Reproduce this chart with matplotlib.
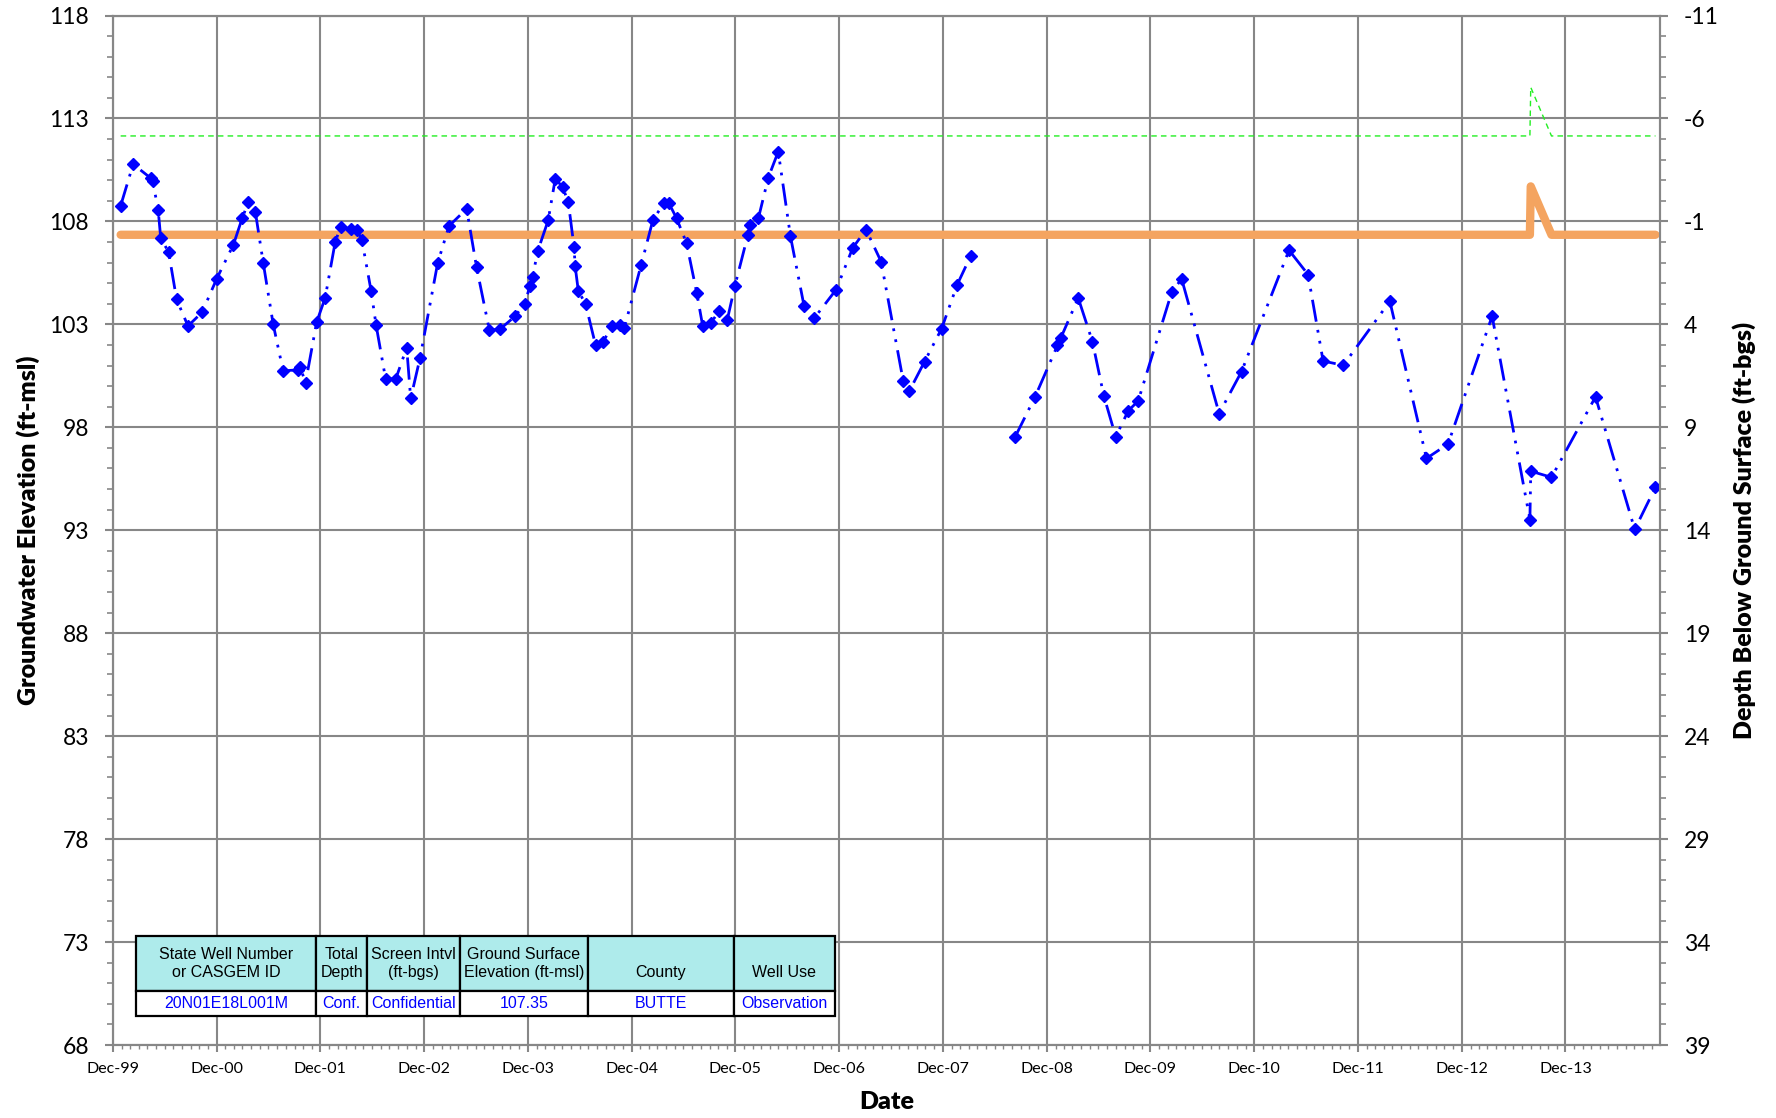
import numpy as np
import pandas as pd
import matplotlib
matplotlib.use("Agg")
import matplotlib.pyplot as plt
import matplotlib.dates as mdates
from matplotlib.ticker import FixedLocator, MultipleLocator

plt.rcParams['font.family'] = ['Lato', 'DejaVu Sans']
plt.rcParams['axes.unicode_minus'] = False

# groundwater elevation measurements (ft-msl), None breaks the line
gw_dates = [
    '1999-12-29', '2000-02-11', '2000-04-13', '2000-04-20', '2000-05-09', '2000-05-18',
    '2000-06-15', '2000-07-13', '2000-08-22', '2000-10-11', '2000-12-01', '2001-01-29',
    '2001-03-01', '2001-03-22', '2001-04-16', '2001-05-14', '2001-06-18', '2001-07-23',
    '2001-09-12', '2001-09-20', '2001-10-10', '2001-11-18', '2001-12-18', '2002-01-22',
    '2002-02-10', '2002-03-18', '2002-04-08', '2002-04-26', '2002-05-29', '2002-06-15',
    '2002-07-19', '2002-08-24', '2002-10-01', '2002-10-15', '2002-11-17', '2003-01-18',
    '2003-02-27', '2003-04-30', '2003-06-04', '2003-07-19', '2003-08-25', '2003-10-18',
    '2003-11-20', '2003-12-09', '2003-12-18', '2004-01-05', '2004-02-11', '2004-03-07',
    '2004-04-02', '2004-04-22', '2004-05-12', '2004-05-16', '2004-05-27', '2004-06-22',
    '2004-07-27', '2004-08-23', '2004-09-22', '2004-10-22', '2004-11-05', '2005-01-03',
    '2005-02-14', '2005-03-25', '2005-04-11', '2005-05-08', '2005-06-12', '2005-07-18',
    '2005-08-08', '2005-09-06', '2005-10-05', '2005-11-02', '2005-11-29', '2006-01-14',
    '2006-01-20', '2006-02-20', '2006-03-27', '2006-05-01', '2006-06-13', '2006-07-31',
    '2006-09-04', '2006-11-21', '2007-01-18', '2007-03-06', '2007-04-28', '2007-07-15',
    '2007-08-05', '2007-09-28', '2007-11-27', '2008-01-21', '2008-03-08', '2008-05-20',
    '2008-08-11', '2008-10-20', '2009-01-08', '2009-01-20', '2009-03-22', '2009-05-11',
    '2009-06-20', '2009-08-01', '2009-09-14', '2009-10-19', '2010-02-14', '2010-03-21',
    '2010-07-31', '2010-10-18', '2011-04-03', '2011-06-09', '2011-08-01', '2011-10-11',
    '2012-03-23', '2012-07-30', '2012-10-14', '2013-03-18', '2013-07-29', '2013-08-01',
    '2013-10-13', '2014-03-17', '2014-08-02', '2014-10-14',
]
gw_elev = [
    108.76, 110.78, 110.10, 109.94, 108.57, 107.20,
    106.50, 104.21, 102.92, 103.59, 105.21, 106.87,
    108.16, 108.92, 108.48, 105.98, 103.00, 100.74,
    100.79, 100.95, 100.17, 103.11, 104.29, 106.98,
    107.73, 107.65, 107.60, 107.11, 104.60, 102.98,
    100.33, 100.37, 101.87, 99.40, 101.37, 105.98,
    107.78, 108.61, 105.77, 102.72, 102.76, 103.40,
    104.01, 104.85, 105.29, 106.55, 108.05, 110.07,
    109.67, 108.92, 106.76, 105.82, 104.64, 103.97,
    101.98, 102.16, 102.92, 102.95, 102.82, 105.87,
    108.08, 108.89, 108.89, 108.15, 106.95, 104.53,
    102.92, 103.08, 103.64, 103.19, 104.85, 107.34,
    107.84, 108.15, 110.13, 111.39, 107.27, 103.88,
    103.29, 104.69, 106.71, 107.60, 106.05, 100.24,
    99.75, 101.19, 102.79, 104.93, 106.31, None,
    97.51, 99.45, 101.98, 102.35, 104.28, 102.16,
    99.53, 97.54, 98.80, 99.28, 104.56, 105.21,
    98.67, 100.71, 106.60, 105.42, 101.22, 101.01,
    104.12, 96.49, 97.19, 103.40, 93.52, 95.87,
    95.57, 99.48, 93.04, 95.09,
]

# ground surface and reference point elevations (ft-msl)
ref_dates = ['1999-12-29', '2013-07-29', '2013-08-01', '2013-10-13', '2014-10-14']
gse_elev = [107.35, 107.35, 109.70, 107.35, 107.35]
rp_elev = [112.15, 112.15, 114.51, 112.15, 112.15]

# well info table
col_labels = ['State Well Number\nor CASGEM ID', 'Total\nDepth', 'Screen Intvl\n(ft-bgs)',
              'Ground Surface\nElevation (ft-msl)', '\nCounty', '\nWell Use']
well_info = ['20N01E18L001M', 'Conf.', 'Confidential', '107.35', 'BUTTE', 'Observation']
col_widths = [181, 51, 93, 128, 147, 101]

elev_ticks = np.arange(68, 119, 5)
depth_ticks = np.arange(-11, 40, 5)

gw = pd.DataFrame({'date': pd.to_datetime(gw_dates),
                   'elev': pd.to_numeric(pd.Series(gw_elev, dtype='float'))})
ref = pd.DataFrame({'date': pd.to_datetime(ref_dates), 'gse': gse_elev, 'rp': rp_elev})

grid_gray = '#878787'

fig = plt.figure(figsize=(17.76, 11.18), dpi=100)
ax = fig.add_axes([112.7 / 1776, 1 - 1045 / 1118, (1660 - 112.7) / 1776, (1045 - 15.5) / 1118])

ax.plot(ref['date'], ref['rp'], color='#22EE22', lw=1, linestyle=(0, (4, 3)), zorder=3)
ax.plot(ref['date'], ref['gse'], color='#F4A460', lw=6, solid_capstyle='round',
        solid_joinstyle='round', zorder=3)
ax.plot(gw['date'], gw['elev'], color='#0000FF', lw=2, linestyle=(0, (8, 3, 1, 3, 1, 3)),
        marker='D', markersize=6.3, zorder=4)

ax.set_xlim(pd.Timestamp('1999-12-01'), pd.Timestamp('2014-10-30'))
ax.set_ylim(68, 118)
ax.xaxis.set_major_locator(mdates.MonthLocator(bymonth=12, bymonthday=1))
ax.xaxis.set_minor_locator(mdates.MonthLocator())
ax.xaxis.set_major_formatter(mdates.DateFormatter('%b-%y'))
ax.yaxis.set_major_locator(FixedLocator(elev_ticks))
ax.yaxis.set_minor_locator(MultipleLocator(1))

ax.grid(which='major', color=grid_gray, lw=1.5)
ax.set_axisbelow(True)
for s in ax.spines.values():
    s.set_color(grid_gray)
    s.set_linewidth(1.5)

ax.tick_params(axis='y', which='major', length=6, width=1.5, color=grid_gray, pad=11, labelsize=16.5)
ax.tick_params(axis='y', which='minor', length=4.5, width=1.2, color=grid_gray)
ax.tick_params(axis='x', which='major', length=5, width=1.5, color=grid_gray, pad=7, labelsize=11.5)
ax.tick_params(axis='x', which='minor', length=3, width=1, color=grid_gray)

ax.set_xlabel('Date', fontsize=18, fontweight='heavy')
ax.xaxis.set_label_coords(0.5, -0.045)
ax.set_ylabel('Groundwater Elevation (ft-msl)', fontsize=18, fontweight='heavy')
ax.yaxis.set_label_coords(-0.047, 0.5)

ax2 = ax.twinx()
ax2.set_ylim(39, -11)
ax2.yaxis.set_major_locator(FixedLocator(depth_ticks))
ax2.yaxis.set_minor_locator(MultipleLocator(1))
ax2.tick_params(axis='y', which='major', length=6, width=1.5, color=grid_gray, pad=11, labelsize=16.5)
ax2.tick_params(axis='y', which='minor', length=4.5, width=1.2, color=grid_gray)
for s in ax2.spines.values():
    s.set_color(grid_gray)
    s.set_linewidth(1.5)
ax2.set_ylabel('Depth Below Ground Surface (ft-bgs)', fontsize=18, fontweight='heavy')
ax2.yaxis.set_label_coords(1.047, 0.5)

# info table in lower left
tbl = ax.table(cellText=[well_info], colLabels=col_labels,
               colWidths=[w / sum(col_widths) for w in col_widths],
               cellLoc='center', bbox=[0.0151, 0.0282, 0.4515, 0.0777])
tbl.auto_set_font_size(False)
tbl.set_zorder(6)
for (r, c), cell in tbl.get_celld().items():
    cell.set_edgecolor('black')
    cell.set_linewidth(1.6)
    txt = cell.get_text()
    txt.set_fontfamily(['Liberation Sans', 'DejaVu Sans'])
    txt.set_fontsize(11.5)
    if r == 0:
        cell.set_facecolor('#AEEBEB')
        cell.set_height(tbl[1, c].get_height() * 2.2)
    else:
        cell.set_facecolor('white')
        txt.set_color('#0000FF')

fig.savefig('out.png', dpi=100)
